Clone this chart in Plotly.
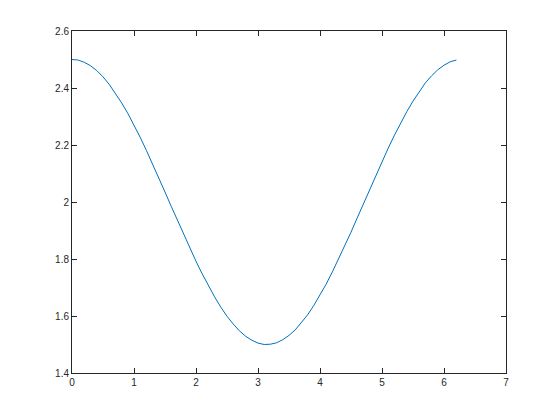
import plotly.graph_objects as go

x_vals = [0.0, 0.1, 0.2, 0.3, 0.4, 0.5, 0.6, 0.7, 0.8, 0.9,
          1.0, 1.1, 1.2, 1.3, 1.4, 1.5, 1.6, 1.7, 1.8, 1.9,
          2.0, 2.1, 2.2, 2.3, 2.4, 2.5, 2.6, 2.7, 2.8, 2.9,
          3.0, 3.1, 3.2, 3.3, 3.4, 3.5, 3.6, 3.7, 3.8, 3.9,
          4.0, 4.1, 4.2, 4.3, 4.4, 4.5, 4.6, 4.7, 4.8, 4.9,
          5.0, 5.1, 5.2, 5.3, 5.4, 5.5, 5.6, 5.7, 5.8, 5.9,
          6.0, 6.1, 6.2]
y_vals = [2.500, 2.498, 2.490, 2.478, 2.461, 2.439, 2.413, 2.382, 2.348, 2.311,
          2.270, 2.227, 2.181, 2.134, 2.085, 2.035, 1.985, 1.936, 1.886, 1.838,
          1.792, 1.748, 1.706, 1.667, 1.631, 1.599, 1.572, 1.548, 1.529, 1.515,
          1.505, 1.500, 1.501, 1.506, 1.517, 1.532, 1.551, 1.576, 1.604, 1.637,
          1.673, 1.712, 1.755, 1.800, 1.846, 1.894, 1.944, 1.994, 2.044, 2.093,
          2.142, 2.189, 2.234, 2.277, 2.317, 2.354, 2.388, 2.418, 2.443, 2.464,
          2.480, 2.492, 2.498]

fig = go.Figure(go.Scatter(x=x_vals, y=y_vals, mode="lines",
                           line=dict(color="#0072BD", width=1),
                           showlegend=False))

axis_style = dict(showgrid=False, zeroline=False, showline=True,
                  linecolor="#262626", linewidth=1, mirror="ticks",
                  ticks="inside", ticklen=5, tickwidth=1, tickcolor="#262626",
                  tickfont=dict(size=10, color="#262626"))

fig.update_xaxes(range=[0, 7], dtick=1, tick0=0, **axis_style)
fig.update_yaxes(range=[1.4, 2.6], dtick=0.2, tick0=1.4, **axis_style)

# page body adds ~8px offset, so margins are shifted to compensate
fig.update_layout(width=560, height=420,
                  margin=dict(l=64, r=62, t=23, b=55),
                  paper_bgcolor="white", plot_bgcolor="white",
                  font=dict(family="Liberation Sans", size=10, color="#262626"))

fig.write_html("out.html")
